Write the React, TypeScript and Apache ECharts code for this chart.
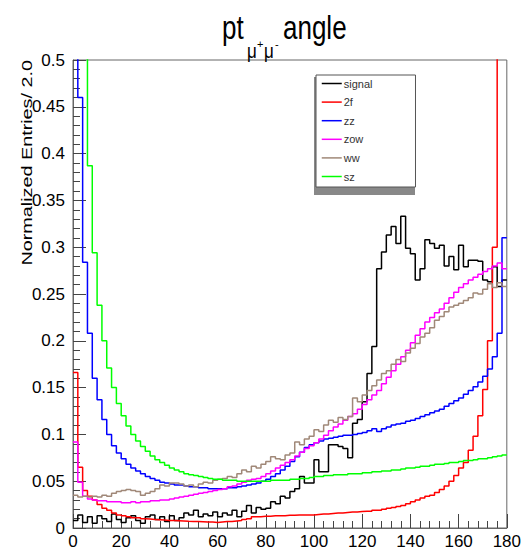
import React, { useEffect, useRef } from "react";
import * as echarts from "echarts";

const BIN_WIDTH = 2.0;
const X_MIN = 0;
const X_MAX = 180;
const Y_MAX = 0.5;

const seriesNames = ["signal", "2f", "zz", "zow", "ww", "sz"];
const seriesColors = ["#000000", "#ff0000", "#0000ff", "#ff00ff", "#a08878", "#00ff00"];

const signal = [
  0.008, 0.014, 0.006, 0.012, 0.005, 0.013, 0.010, 0.007, 0.015, 0.009,
  0.006, 0.011, 0.013, 0.008, 0.005, 0.012, 0.014, 0.009, 0.012, 0.007,
  0.013, 0.008, 0.011, 0.016, 0.014, 0.019, 0.012, 0.015, 0.013, 0.017,
  0.012, 0.016, 0.014, 0.019, 0.012, 0.018, 0.024, 0.016, 0.022, 0.020,
  0.021, 0.028, 0.026, 0.034, 0.032, 0.039, 0.042, 0.055, 0.048, 0.048,
  0.073, 0.060, 0.060, 0.089, 0.089, 0.087, 0.085, 0.075, 0.112, 0.116,
  0.135, 0.165, 0.194, 0.277, 0.295, 0.313, 0.322, 0.304, 0.333, 0.299,
  0.293, 0.265, 0.277, 0.308, 0.304, 0.299, 0.302, 0.280, 0.290, 0.276,
  0.302, 0.279, 0.286, 0.286, 0.285, 0.265, 0.263, 0.279, 0.258, 0.265,
];

const bkg2f = [
  0.166, 0.065, 0.040, 0.034, 0.030, 0.025, 0.021, 0.019, 0.016, 0.014,
  0.013, 0.012, 0.011, 0.011, 0.010, 0.0095, 0.009, 0.0088, 0.0085, 0.008,
  0.008, 0.0078, 0.0075, 0.0072, 0.007, 0.007, 0.0068, 0.0065, 0.0065, 0.006,
  0.0065, 0.007, 0.007, 0.0075, 0.008, 0.009, 0.010, 0.012, 0.012, 0.0125,
  0.0125, 0.013, 0.013, 0.013, 0.0135, 0.0135, 0.014, 0.014, 0.014, 0.014,
  0.0145, 0.015, 0.015, 0.0155, 0.016, 0.016, 0.0165, 0.017, 0.017, 0.0175,
  0.018, 0.018, 0.019, 0.019, 0.020, 0.021, 0.022, 0.023, 0.024, 0.026,
  0.028, 0.030, 0.032, 0.034, 0.035, 0.038, 0.041, 0.045, 0.050, 0.056,
  0.064, 0.070, 0.083, 0.098, 0.120, 0.148, 0.200, 0.300, 0.650, 0.650,
];

const bkgZZ = [
  0.55, 0.46, 0.284, 0.208, 0.160, 0.137, 0.116, 0.100, 0.088, 0.080,
  0.074, 0.068, 0.064, 0.061, 0.058, 0.055, 0.053, 0.051, 0.049, 0.048,
  0.047, 0.046, 0.046, 0.045, 0.044, 0.044, 0.043, 0.043, 0.042, 0.042,
  0.042, 0.042, 0.043, 0.043, 0.044, 0.045, 0.046, 0.047, 0.048, 0.050,
  0.052, 0.055, 0.058, 0.062, 0.066, 0.071, 0.076, 0.081, 0.086, 0.089,
  0.091, 0.093, 0.095, 0.096, 0.097, 0.098, 0.099, 0.099, 0.100, 0.101,
  0.102, 0.104, 0.106, 0.103, 0.106, 0.108, 0.110, 0.111, 0.112, 0.114,
  0.115, 0.117, 0.119, 0.121, 0.123, 0.125, 0.127, 0.130, 0.133, 0.136,
  0.139, 0.143, 0.147, 0.151, 0.156, 0.162, 0.170, 0.183, 0.208, 0.310,
];

const bkgZOW = [
  0.092, 0.049, 0.034, 0.031, 0.030, 0.029, 0.029, 0.028, 0.028, 0.028,
  0.027, 0.027, 0.028, 0.027, 0.028, 0.028, 0.029, 0.029, 0.030, 0.030,
  0.031, 0.032, 0.033, 0.034, 0.035, 0.036, 0.037, 0.038, 0.039, 0.040,
  0.041, 0.042, 0.044, 0.045, 0.047, 0.049, 0.051, 0.052, 0.053, 0.055,
  0.058, 0.061, 0.064, 0.067, 0.070, 0.073, 0.077, 0.081, 0.085, 0.088,
  0.091, 0.095, 0.099, 0.104, 0.108, 0.111, 0.115, 0.119, 0.122, 0.127,
  0.132, 0.137, 0.142, 0.147, 0.154, 0.161, 0.168, 0.175, 0.183, 0.190,
  0.198, 0.206, 0.213, 0.220, 0.225, 0.230, 0.234, 0.240, 0.246, 0.252,
  0.257, 0.261, 0.265, 0.268, 0.271, 0.274, 0.277, 0.280, 0.283, 0.277,
];

const bkgWW = [
  0.035, 0.033, 0.034, 0.033, 0.034, 0.033, 0.035, 0.034, 0.037, 0.039,
  0.040, 0.041, 0.040, 0.039, 0.035, 0.037, 0.039, 0.042, 0.046, 0.045,
  0.048, 0.048, 0.047, 0.045, 0.046, 0.044, 0.047, 0.049, 0.048, 0.051,
  0.052, 0.053, 0.055, 0.054, 0.058, 0.062, 0.060, 0.066, 0.064, 0.068,
  0.071, 0.076, 0.074, 0.073, 0.078, 0.080, 0.092, 0.089, 0.095, 0.098,
  0.105, 0.103, 0.110, 0.115, 0.113, 0.118, 0.116, 0.119, 0.139, 0.135,
  0.142, 0.147, 0.152, 0.158, 0.165, 0.168, 0.175, 0.180, 0.178, 0.187,
  0.192, 0.197, 0.204, 0.208, 0.214, 0.222, 0.226, 0.231, 0.236, 0.238,
  0.240, 0.243, 0.246, 0.251, 0.250, 0.255, 0.261, 0.257, 0.262, 0.258,
];

const bkgSZ = [
  0.90, 0.70, 0.55, 0.387, 0.294, 0.238, 0.200, 0.171, 0.150, 0.133,
  0.120, 0.109, 0.100, 0.093, 0.087, 0.082, 0.077, 0.073, 0.070, 0.067,
  0.064, 0.062, 0.060, 0.058, 0.057, 0.056, 0.055, 0.054, 0.053, 0.052,
  0.052, 0.051, 0.051, 0.051, 0.050, 0.050, 0.050, 0.050, 0.050, 0.050,
  0.050, 0.051, 0.051, 0.051, 0.051, 0.052, 0.052, 0.053, 0.053, 0.054,
  0.055, 0.055, 0.056, 0.056, 0.057, 0.057, 0.057, 0.058, 0.058, 0.058,
  0.059, 0.059, 0.060, 0.060, 0.061, 0.061, 0.062, 0.062, 0.063, 0.064,
  0.064, 0.065, 0.066, 0.066, 0.067, 0.068, 0.068, 0.069, 0.070, 0.070,
  0.071, 0.072, 0.072, 0.073, 0.074, 0.074, 0.075, 0.076, 0.077, 0.078,
];

const seriesValues = [signal, bkg2f, bkgZZ, bkgZOW, bkgWW, bkgSZ];

const FONT = "'Liberation Sans', Arial, Helvetica, sans-serif";

function histData(vals: number[]) {
  const pts: [number, number][] = vals.map((v, i) => [X_MIN + i * BIN_WIDTH, v]);
  pts.push([X_MIN + vals.length * BIN_WIDTH, vals[vals.length - 1]]);
  return pts;
}

export default function App() {
  const ref = useRef<HTMLDivElement>(null);
  useEffect(() => {
    if (!ref.current) return;
    const chart = echarts.init(ref.current, null, { renderer: "svg" });
    const option: any = {
      animation: false,
      backgroundColor: "#ffffff",
      grid: {
        left: 73,
        right: 17,
        top: 60,
        bottom: 24,
        show: true,
        borderColor: "#666",
        borderWidth: 1,
        backgroundColor: "transparent",
      },
      legend: {
        orient: "vertical",
        left: 316,
        top: 75,
        itemWidth: 20,
        itemHeight: 12,
        itemGap: 7.6,
        padding: [3, 43, 5, 5],
        backgroundColor: "#fff",
        borderColor: "#555",
        borderWidth: 1,
        itemStyle: { opacity: 0 },
        lineStyle: { width: 1.5 },
        textStyle: { fontFamily: FONT, fontSize: 11, color: "#333", padding: [0, 0, 0, -3] },
        data: seriesNames,
      },
      xAxis: {
        type: "value",
        min: X_MIN,
        max: X_MAX,
        interval: 20,
        axisLine: { show: true, lineStyle: { color: "#666", width: 1 } },
        axisTick: { show: true, inside: true, length: 14, lineStyle: { color: "#444" } },
        minorTick: { show: true, splitNumber: 5, length: 7, lineStyle: { color: "#444" } },
        splitLine: { show: false },
        axisLabel: { fontFamily: FONT, fontSize: 17, color: "#000", margin: 5 },
      },
      yAxis: {
        type: "value",
        min: 0,
        max: Y_MAX,
        interval: 0.05,
        axisLine: { show: true, lineStyle: { color: "#666", width: 1 } },
        axisTick: { show: true, inside: true, length: 13, lineStyle: { color: "#444" } },
        minorTick: { show: true, splitNumber: 5, length: 7, lineStyle: { color: "#444" } },
        splitLine: { show: false },
        axisLabel: { fontFamily: FONT, fontSize: 17, color: "#000", margin: 8 },
      },
      series: seriesNames.map((name, k) => ({
        name,
        type: "line",
        step: "end",
        symbol: "none",
        showSymbol: false,
        clip: true,
        data: histData(seriesValues[k]),
        lineStyle: { color: seriesColors[k], width: 1.5 },
        itemStyle: { color: seriesColors[k] },
      })),
      graphic: [
        {
          type: "rect",
          z: 1,
          shape: { x: 314, y: 77, width: 101, height: 118 },
          style: { fill: "#888" },
        },
        { type: "text", x: 222, y: 27, scaleY: 1.25, style: { text: "pt", font: `26px ${FONT}`, fill: "#000", align: "left", verticalAlign: "middle" } },
        { type: "text", x: 247, y: 51, scaleY: 1.15, style: { text: "μ", font: `17px ${FONT}`, fill: "#000", align: "left", verticalAlign: "middle" } },
        { type: "text", x: 257, y: 44, style: { text: "+", font: `11px ${FONT}`, fill: "#000", align: "left", verticalAlign: "middle" } },
        { type: "text", x: 264, y: 51, scaleY: 1.15, style: { text: "μ", font: `17px ${FONT}`, fill: "#000", align: "left", verticalAlign: "middle" } },
        { type: "text", x: 275, y: 44, style: { text: "-", font: `11px ${FONT}`, fill: "#000", align: "left", verticalAlign: "middle" } },
        { type: "text", x: 283, y: 27, scaleY: 1.25, style: { text: "angle", font: `26px ${FONT}`, fill: "#000", align: "left", verticalAlign: "middle" } },
        {
          type: "text",
          x: 27,
          y: 60,
          rotation: Math.PI / 2,
          scaleX: 1.32,
          style: { text: "Normalized Entries/ 2.0", font: `15px ${FONT}`, fill: "#000", align: "right", verticalAlign: "middle" },
        },
      ],
    };
    chart.setOption(option);
    return () => chart.dispose();
  }, []);
  return (
    <div
      ref={ref}
      style={{ position: "fixed", left: 0, top: 0, width: 524, height: 552, background: "#fff" }}
    />
  );
}
